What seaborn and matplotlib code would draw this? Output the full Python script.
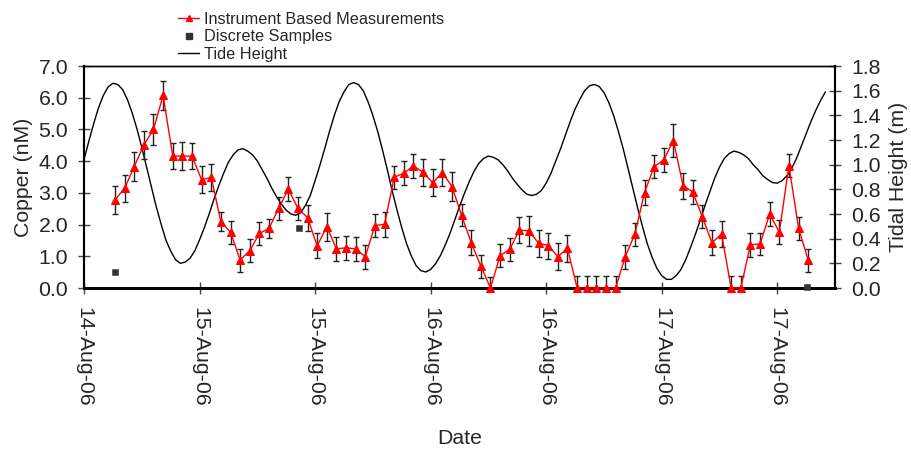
import numpy as np
import pandas as pd
import matplotlib
matplotlib.use("Agg")
import matplotlib.pyplot as plt
import matplotlib.dates as mdates
from matplotlib.lines import Line2D
import seaborn as sns

# ---------------- data ----------------
copper = [2.78, 3.14, 3.83, 4.51, 5.00, 6.07, 4.16, 4.16, 4.16, 3.41,
          3.49, 2.09, 1.76, 0.88, 1.18, 1.72, 1.88, 2.51, 3.12, 2.51,
          2.22, 1.33, 1.93, 1.23, 1.27, 1.23, 0.99, 1.97, 2.01, 3.49,
          3.62, 3.85, 3.65, 3.32, 3.64, 3.20, 2.29, 1.43, 0.69, 0.00,
          1.02, 1.22, 1.83, 1.80, 1.41, 1.34, 0.99, 1.25, 0.00, 0.00,
          0.00, 0.00, 0.00, 0.99, 1.70, 3.01, 3.83, 4.04, 4.65, 3.23,
          3.03, 2.25, 1.43, 1.70, 0.00, 0.00, 1.36, 1.39, 2.33, 1.76,
          3.86, 1.88, 0.88]
copper_err = [0.44, 0.42, 0.46, 0.45, 0.49, 0.46, 0.40, 0.45, 0.42, 0.43,
              0.42, 0.30, 0.36, 0.36, 0.35, 0.37, 0.30, 0.37, 0.38, 0.36,
              0.41, 0.39, 0.44, 0.37, 0.38, 0.37, 0.38, 0.35, 0.40, 0.37,
              0.37, 0.38, 0.42, 0.42, 0.42, 0.46, 0.35, 0.39, 0.36, 0.35,
              0.36, 0.37, 0.42, 0.46, 0.43, 0.41, 0.43, 0.42, 0.37, 0.37,
              0.37, 0.37, 0.37, 0.38, 0.36, 0.38, 0.37, 0.38, 0.51, 0.41,
              0.37, 0.37, 0.39, 0.42, 0.37, 0.37, 0.38, 0.35, 0.37, 0.37,
              0.37, 0.36, 0.36]
meas_time = pd.date_range("2006-08-14 15:13", periods=len(copper), freq="h")

discrete_time = pd.to_datetime(["2006-08-14 15:13", "2006-08-15 10:20", "2006-08-17 15:05"])
discrete_copper = [0.52, 1.90, 0.03]

# tide height, every 30 minutes from 14-Aug-06 12:00
tide = [1.04, 1.19, 1.33, 1.46, 1.56, 1.63, 1.66, 1.65, 1.61, 1.53,
        1.42, 1.29, 1.14, 0.98, 0.82, 0.66, 0.52, 0.39, 0.30, 0.23,
        0.20, 0.21, 0.24, 0.30, 0.39, 0.49, 0.60, 0.72, 0.83, 0.93,
        1.02, 1.08, 1.12, 1.13, 1.11, 1.08, 1.03, 0.96, 0.89, 0.81,
        0.74, 0.68, 0.63, 0.60, 0.59, 0.61, 0.67, 0.75, 0.87, 0.995,
        1.13, 1.27, 1.40, 1.51, 1.59, 1.65, 1.665, 1.65, 1.60, 1.51,
        1.40, 1.27, 1.12, 0.96, 0.79, 0.635, 0.49, 0.36, 0.26, 0.18,
        0.14, 0.13, 0.15, 0.195, 0.26, 0.345, 0.44, 0.55, 0.66, 0.765,
        0.86, 0.945, 1.01, 1.05, 1.07, 1.06, 1.04, 1.00, 0.95, 0.89,
        0.84, 0.795, 0.76, 0.75, 0.76, 0.79, 0.85, 0.93, 1.03, 1.13,
        1.24, 1.35, 1.45, 1.53, 1.60, 1.64, 1.65, 1.635, 1.585, 1.505,
        1.40, 1.27, 1.13, 0.97, 0.81, 0.65, 0.50, 0.36, 0.25, 0.16,
        0.10, 0.07, 0.07, 0.10, 0.15, 0.23, 0.33, 0.435, 0.55, 0.67,
        0.78, 0.89, 0.98, 1.05, 1.09, 1.11, 1.10, 1.08, 1.05, 1.00,
        0.96, 0.91, 0.88, 0.855, 0.85, 0.87, 0.91, 0.97, 1.05, 1.15,
        1.25, 1.35, 1.44, 1.52, 1.59]
tide_time = pd.date_range("2006-08-14 12:00", periods=len(tide), freq="30min")

left_ticks = [0.0, 1.0, 2.0, 3.0, 4.0, 5.0, 6.0, 7.0]
right_ticks = [0.0, 0.2, 0.4, 0.6, 0.8, 1.0, 1.2, 1.4, 1.6, 1.8]
x_ticks = pd.date_range("2006-08-14 12:00", periods=7, freq="12h")

meas_df = pd.DataFrame({"time": meas_time, "copper": copper, "err": copper_err})
disc_df = pd.DataFrame({"time": discrete_time, "copper": discrete_copper})
tide_df = pd.DataFrame({"time": tide_time, "tide": tide})

# ---------------- style ----------------
sns.set_style("ticks")
plt.rcParams["font.family"] = ["Liberation Sans", "DejaVu Sans"]

fig = plt.figure(figsize=(9.11, 4.49), dpi=100)
ax = fig.add_axes([84 / 911, 1 - 288 / 449, (835 - 84) / 911, (288 - 66) / 449])
ax2 = ax.twinx()

# tide height (right axis)
sns.lineplot(data=tide_df, x="time", y="tide", ax=ax2, color="black",
             linewidth=1.0, legend=False)

# error bars + instrument measurements
ax.errorbar(meas_df["time"], meas_df["copper"], yerr=meas_df["err"], fmt="none",
            ecolor="#222222", elinewidth=1.0, capsize=2.5, capthick=1.0, zorder=2)
sns.lineplot(data=meas_df, x="time", y="copper", ax=ax, color="red", linewidth=1.0,
             marker="^", markersize=6, markeredgecolor="red", legend=False, zorder=3,
             clip_on=False)
sns.scatterplot(data=disc_df, x="time", y="copper", ax=ax, color="#333333",
                marker="s", s=22, edgecolor="#333333", zorder=4, legend=False,
                clip_on=False)

ax.set_zorder(ax2.get_zorder() + 1)
ax.patch.set_visible(False)

# axes limits & ticks
ax.set_xlim(pd.Timestamp("2006-08-14 12:00"), pd.Timestamp("2006-08-17 18:00"))
ax.set_ylim(0, 7.0)
ax2.set_ylim(0, 1.8)
ax.set_yticks(left_ticks)
ax.set_yticklabels([f"{v:.1f}" for v in left_ticks])
ax2.set_yticks(right_ticks)
ax2.set_yticklabels([f"{v:.1f}" for v in right_ticks])
ax.set_xticks(x_ticks)
ax.xaxis.set_major_formatter(mdates.DateFormatter("%d-%b-%y"))

fs = 15.3
for a in (ax, ax2):
    a.tick_params(axis="both", direction="inout", length=9, width=1.0,
                  labelsize=fs, color="#444444")
ax.tick_params(axis="y", pad=7)
ax.tick_params(axis="x", pad=9)
ax2.tick_params(axis="y", pad=7)
for lab in ax.get_xticklabels():
    lab.set_rotation(-90)
    lab.set_va("top")
    lab.set_ha("center")

ax.set_xlabel("Date", fontsize=fs, labelpad=16)
ax.set_ylabel("Copper (nM)", fontsize=fs, labelpad=4)
ax2.set_ylabel("Tidal Height (m)", fontsize=fs, labelpad=6)

for a in (ax, ax2):
    for s in a.spines.values():
        s.set_color("black")
        s.set_linewidth(1.0)
    a.spines["bottom"].set_linewidth(2.0)
    a.spines["left"].set_linewidth(1.5)
    a.spines["right"].set_linewidth(1.5)

# legend
handles = [
    Line2D([], [], color="red", marker="^", markersize=5, linewidth=1.0),
    Line2D([], [], color="#333333", marker="s", markersize=4, linestyle="none"),
    Line2D([], [], color="black", linewidth=1.0),
]
labels = ["Instrument Based Measurements", "Discrete Samples", "Tide Height"]
fig.legend(handles, labels, loc="upper left", bbox_to_anchor=(178 / 911, 1 - 12 / 449),
           frameon=False, fontsize=11.7, handlelength=1.3, handletextpad=0.3,
           labelspacing=0.15, borderpad=0, borderaxespad=0)

fig.savefig("out.png", dpi=100)
